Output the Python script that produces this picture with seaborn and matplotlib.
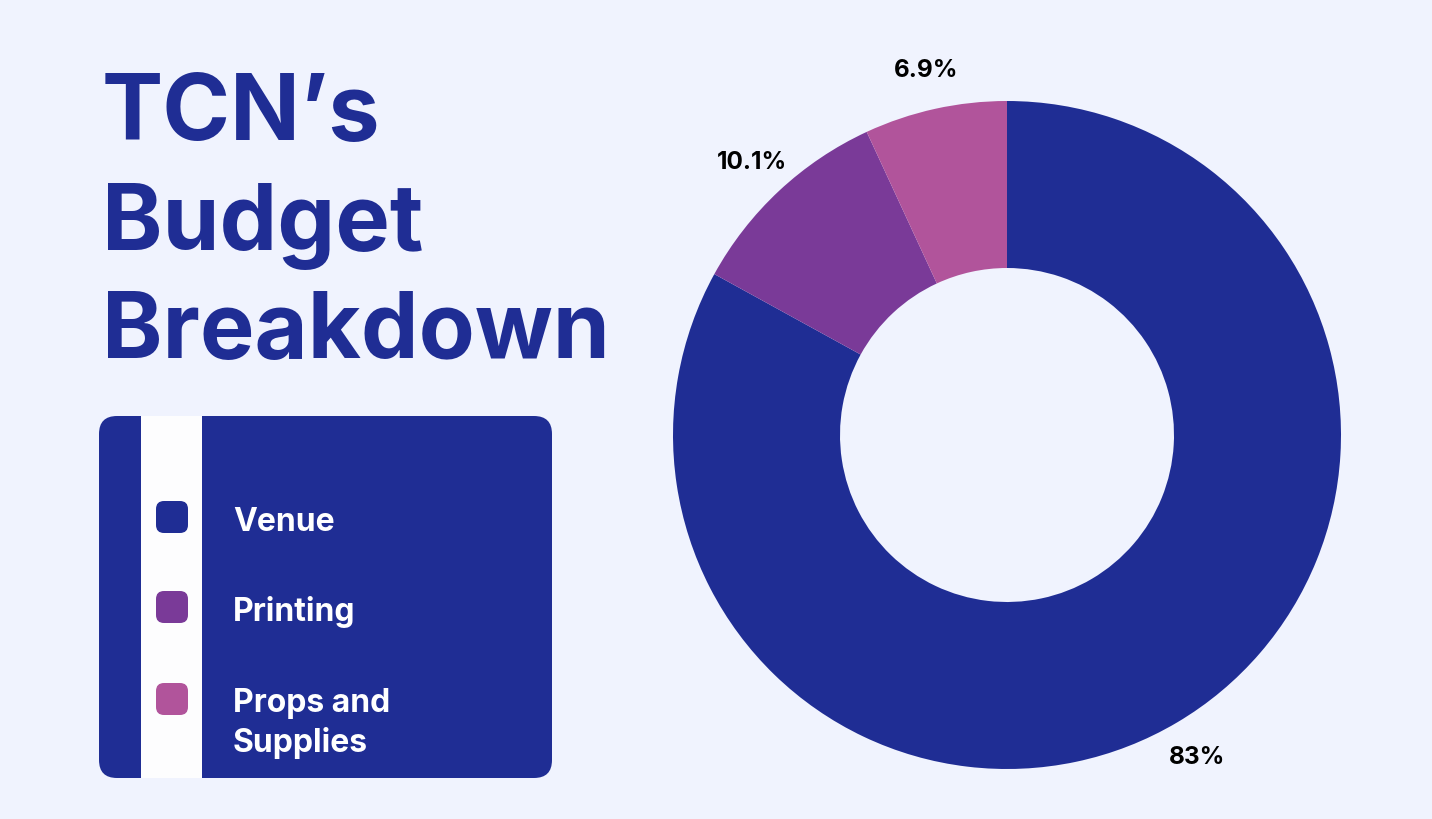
import matplotlib
matplotlib.use("Agg")
import matplotlib.pyplot as plt
from matplotlib.patches import FancyBboxPatch, Rectangle
import seaborn as sns

categories = ["Venue", "Printing", "Props and\nSupplies"]
values = [83.0, 10.1, 6.9]
value_labels = ["83%", "10.1%", "6.9%"]
title_lines = ["TCN\u2019s", "Budget", "Breakdown"]

BG = "#F0F3FE"
NAVY = "#1F2D94"
colors = ["#1F2D94", "#7A3A98", "#B1549B"]

sns.set_theme(style="white")
plt.rcParams["font.family"] = ["Inter", "DejaVu Sans"]

W, H = 1432, 820
fig = plt.figure(figsize=(W / 100, H / 100), dpi=100)
fig.patch.set_facecolor(BG)

# background / decoration axes in pixel coordinates
bg = fig.add_axes([0, 0, 1, 1])
bg.set_xlim(0, W)
bg.set_ylim(H, 0)
bg.axis("off")
bg.set_facecolor(BG)

# title
baselines = [140, 250, 358]
for line, yb in zip(title_lines, baselines):
    bg.text(102, yb, line, fontsize=66, fontweight="bold", color=NAVY,
            ha="left", va="baseline")

# legend box
bx0, by0, bx1, by1 = 99, 417, 552, 779
bg.add_patch(FancyBboxPatch((bx0, by0), bx1 - bx0, by1 - by0,
                            boxstyle="round,pad=0,rounding_size=18",
                            facecolor=NAVY, edgecolor="none"))
bg.add_patch(Rectangle((141, by0), 61, by1 - by0, facecolor="#FDFDFE",
                       edgecolor="none"))

marker_y = [518, 608, 700]
text_base = [531, 621, 752]   # baseline of the last line of each label
for cat, col, my, tb in zip(categories, colors, marker_y, text_base):
    bg.add_patch(FancyBboxPatch((156, my - 16), 32, 32,
                                boxstyle="round,pad=0,rounding_size=8",
                                facecolor=col, edgecolor="none"))
    bg.text(233, tb, cat, fontsize=23, fontweight="bold", color="white",
            ha="left", va="baseline", linespacing=1.3)

# donut
cx, cy, R = 1007, 436, 334
ax = fig.add_axes([(cx - R) / W, (H - cy - R) / H, 2 * R / W, 2 * R / H])
wedges, texts = ax.pie(values, labels=value_labels, colors=colors,
                       startangle=90, counterclock=False, radius=1.0,
                       labeldistance=1.12,
                       wedgeprops=dict(width=0.5, edgecolor="none"),
                       textprops=dict(fontsize=17.5, fontweight="bold",
                                      color="black"))
for t in texts:
    t.set_ha("center")
    t.set_va("center")
ax.set_xlim(-1, 1)
ax.set_ylim(-1, 1)
ax.set_aspect("equal")
ax.axis("off")

fig.savefig("out.png", dpi=100, facecolor=BG)
